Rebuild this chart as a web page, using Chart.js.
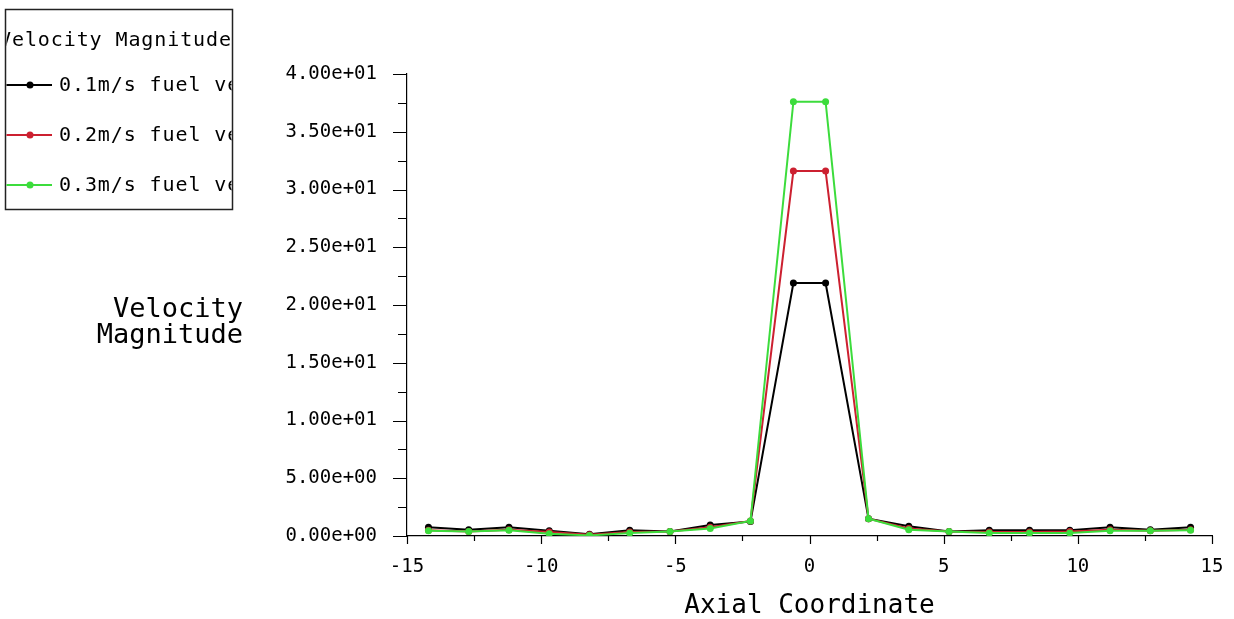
<!DOCTYPE html>
<html>
<head>
<meta charset="utf-8">
<title>Velocity Magnitude</title>
<script src="https://cdn.jsdelivr.net/npm/chart.js@4.4.1/dist/chart.umd.min.js"></script>
<style>
  html, body { margin: 0; padding: 0; background: #ffffff; }
  canvas { display: block; }
</style>
</head>
<body>
<canvas id="plot" width="1234" height="619"></canvas>
<script>
// Axial coordinate of each sampled node
const axialPositions = [-14.2, -12.7, -11.2, -9.7, -8.2, -6.7, -5.2, -3.7, -2.2, -0.6,
                         0.6, 2.2, 3.7, 5.2, 6.7, 8.2, 9.7, 11.2, 12.7, 14.2];

// Velocity magnitude for each fuel inlet velocity
const velocityFuel01 = [0.75, 0.55, 0.75, 0.45, 0.15, 0.5, 0.4, 0.95, 1.25, 21.9,
                        21.9, 1.5, 0.85, 0.4, 0.5, 0.5, 0.5, 0.75, 0.55, 0.75];
const velocityFuel02 = [0.5, 0.4, 0.55, 0.35, 0.1, 0.35, 0.4, 0.75, 1.3, 31.6,
                        31.6, 1.5, 0.65, 0.4, 0.35, 0.35, 0.4, 0.55, 0.45, 0.55];
const velocityFuel03 = [0.45, 0.4, 0.5, 0.2, 0.05, 0.25, 0.4, 0.65, 1.3, 37.6,
                        37.6, 1.5, 0.55, 0.4, 0.25, 0.25, 0.25, 0.45, 0.45, 0.5];

const seriesLabels = ['0.1m/s fuel velocity', '0.2m/s fuel velocity', '0.3m/s fuel velocity'];
const seriesColors = ['#000000', '#cc2030', '#3cdc3c'];

const legendTitle = 'Velocity Magnitude';
const xAxisTitle = 'Axial Coordinate';
const yAxisTitleLines = ['Velocity', 'Magnitude'];

const MONO = '"DejaVu Sans Mono", "Liberation Mono", monospace';

// 4.00e+01 style labels
function sciLabel(v) {
  if (v === 0) return '0.00e+00';
  let exp = Math.floor(Math.log10(Math.abs(v)));
  let mant = v / Math.pow(10, exp);
  if (Math.abs(mant) >= 9.995) { mant /= 10; exp += 1; }
  const sign = exp < 0 ? '-' : '+';
  return mant.toFixed(2) + 'e' + sign + String(Math.abs(exp)).padStart(2, '0');
}

function toPoints(values) {
  return axialPositions.map((x, i) => ({ x: x, y: values[i] }));
}

const seriesValues = [velocityFuel01, velocityFuel02, velocityFuel03];
const datasets = seriesValues.map((vals, i) => ({
  label: seriesLabels[i],
  data: toPoints(vals),
  borderColor: seriesColors[i],
  backgroundColor: seriesColors[i],
  borderWidth: 2,
  pointRadius: 3.5,
  pointBorderWidth: 0,
  pointHoverRadius: 3.5,
  tension: 0,
  order: seriesValues.length - i
}));

// Major and minor tick marks on both axes
const tickMarks = {
  id: 'tickMarks',
  afterDraw(chart) {
    const ctx = chart.ctx;
    const xs = chart.scales.x, ys = chart.scales.y;
    const area = chart.chartArea;
    ctx.save();
    ctx.strokeStyle = '#000';
    ctx.lineWidth = 1.2;
    ctx.beginPath();
    for (let v = 0; v <= 40.001; v += 2.5) {
      const p = Math.round(ys.getPixelForValue(v)) + 0.5;
      const major = Math.abs(v % 5) < 1e-6;
      ctx.moveTo(area.left - (major ? 14 : 9), p);
      ctx.lineTo(area.left, p);
    }
    for (let v = -15; v <= 15.001; v += 2.5) {
      const p = Math.round(xs.getPixelForValue(v)) + 0.5;
      const major = Math.abs(v % 5) < 1e-6;
      ctx.moveTo(p, area.bottom);
      ctx.lineTo(p, area.bottom + (major ? 8 : 5));
    }
    ctx.stroke();
    ctx.restore();
  }
};

// Axis titles and the boxed legend
const annotations = {
  id: 'annotations',
  afterDraw(chart) {
    const ctx = chart.ctx;
    const area = chart.chartArea;
    ctx.save();
    ctx.fillStyle = '#000';

    // x axis title
    ctx.font = '26px ' + MONO;
    ctx.textAlign = 'center';
    ctx.textBaseline = 'alphabetic';
    ctx.fillText(xAxisTitle, (area.left + area.right) / 2, 613);

    // y axis title, horizontal, two lines
    ctx.font = '27px ' + MONO;
    ctx.textAlign = 'right';
    ctx.fillText(yAxisTitleLines[0], 243, 317);
    ctx.fillText(yAxisTitleLines[1], 243, 343);

    // legend box
    const bx = 5.5, by = 9.5, bw = 227, bh = 200;
    ctx.fillStyle = '#fff';
    ctx.fillRect(bx, by, bw, bh);
    ctx.strokeStyle = '#222';
    ctx.lineWidth = 1.5;
    ctx.strokeRect(bx, by, bw, bh);

    ctx.save();
    ctx.beginPath();
    ctx.rect(bx + 1, by + 1, bw - 2, bh - 2);
    ctx.clip();
    ctx.fillStyle = '#000';
    ctx.font = '20px ' + MONO;
    ctx.letterSpacing = '0.9px';
    ctx.textAlign = 'left';
    ctx.textBaseline = 'middle';
    ctx.fillText(legendTitle, -1, 41);

    const rowY = [85, 135, 185];
    chart.data.datasets.forEach((ds, i) => {
      const y = rowY[i];
      ctx.strokeStyle = ds.borderColor;
      ctx.lineWidth = 2;
      ctx.beginPath();
      ctx.moveTo(0, y);
      ctx.lineTo(52, y);
      ctx.stroke();
      ctx.fillStyle = ds.backgroundColor;
      ctx.beginPath();
      ctx.arc(30, y, 3.5, 0, Math.PI * 2);
      ctx.fill();
      ctx.fillStyle = '#000';
      ctx.fillText(ds.label, 59, y + 1);
    });
    ctx.restore();

    ctx.restore();
  }
};

new Chart(document.getElementById('plot'), {
  type: 'line',
  data: { datasets: datasets },
  options: {
    responsive: false,
    animation: false,
    events: [],
    layout: { padding: { left: 0, top: 74, right: 22, bottom: 0 } },
    plugins: {
      legend: { display: false },
      title: { display: false },
      tooltip: { enabled: false }
    },
    scales: {
      x: {
        type: 'linear',
        min: -15,
        max: 15,
        afterFit(scale) {
          scale.height = 83;
          scale.paddingLeft = 0;
          scale.paddingRight = 0;
        },
        grid: { display: true, drawOnChartArea: false, drawTicks: false },
        border: { display: true, color: '#000', width: 1.2 },
        ticks: {
          stepSize: 5,
          padding: 20,
          color: '#000',
          maxRotation: 0,
          font: { family: MONO, size: 19 },
          callback: (v) => String(v)
        }
      },
      y: {
        type: 'linear',
        min: 0,
        max: 40,
        afterFit(scale) {
          scale.width = 407;
          scale.paddingTop = 0;
          scale.paddingBottom = 0;
        },
        grid: { display: true, drawOnChartArea: false, drawTicks: false },
        border: { display: true, color: '#000', width: 1.2 },
        ticks: {
          stepSize: 5,
          padding: 30,
          color: '#000',
          font: { family: MONO, size: 19 },
          callback: (v) => sciLabel(v)
        }
      }
    }
  },
  plugins: [tickMarks, annotations]
});
</script>
</body>
</html>
